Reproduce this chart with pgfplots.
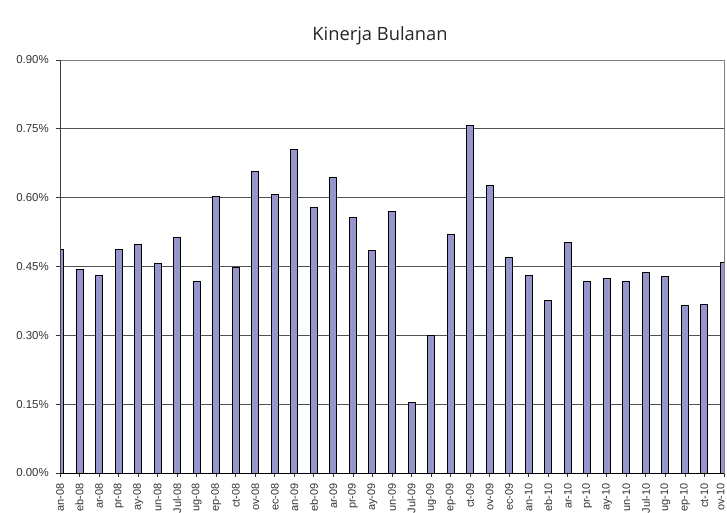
\documentclass[border=0pt]{standalone}
\usepackage{pgfplots}
\pgfplotsset{compat=1.18}
\usepackage{fontspec}
\setmainfont{Liberation Sans}
\newfontfamily\titlefont{Open Sans}
\definecolor{barfill}{RGB}{150,150,205}
\begin{document}
\begin{tikzpicture}
\begin{axis}[
  at={(0,0)}, anchor=south west,
  scale only axis,
  width=664bp, height=413bp,
  xmin=0, xmax=34,
  ymin=0, ymax=0.9,
  ybar, bar width=7bp,
  xtick={0,...,34},
  xticklabels={an-08,eb-08,ar-08,pr-08,ay-08,un-08,Jul-08,ug-08,ep-08,ct-08,ov-08,ec-08,an-09,eb-09,ar-09,pr-09,ay-09,un-09,Jul-09,ug-09,ep-09,ct-09,ov-09,ec-09,an-10,eb-10,ar-10,pr-10,ay-10,un-10,Jul-10,ug-10,ep-10,ct-10,{\raisebox{3.5bp}[\height][\depth]{ov-10}}},
  xticklabel style={yshift=-5bp, rotate=90, anchor=east, font=\fontsize{11}{12}\selectfont, color=black!80, inner sep=1bp},
  ytick={0,0.15,0.3,0.45,0.6,0.75,0.9},
  yticklabels={0.00\%,0.15\%,0.30\%,0.45\%,0.60\%,0.75\%,0.90\%},
  yticklabel style={xshift=-6bp, font=\fontsize{11.5}{12}\selectfont, color=black!80, inner sep=1bp},
  tick align=outside,
  xtick pos=left, ytick pos=left,
  major tick length=4bp,
  tick style={black!80, line width=0.8bp},
  ymajorgrids,
  major grid style={black!68, line width=1bp},
  axis line style={black!50, line width=1bp},
  title={\titlefont Kinerja Bulanan},
  title style={font=\fontsize{18.4}{20}\selectfont, at={(0.5,1)}, anchor=center, xshift=-12bp, yshift=18bp, color=black!85},
]
\addplot[fill=barfill, draw=black, line width=1bp] table[x=i, y=v] {
i v
0 0.486
1 0.443
2 0.431
3 0.486
4 0.499
5 0.456
6 0.514
7 0.417
8 0.603
9 0.448
10 0.657
11 0.607
12 0.706
13 0.579
14 0.645
15 0.557
16 0.484
17 0.569
18 0.153
19 0.299
20 0.520
21 0.758
22 0.627
23 0.470
24 0.430
25 0.377
26 0.503
27 0.417
28 0.423
29 0.418
30 0.438
31 0.429
32 0.365
33 0.368
34 0.458
};
\draw[black!75, line width=1bp] (rel axis cs:0,0) -- (rel axis cs:0,1);
\draw[black, line width=1bp] (rel axis cs:0,0) -- (rel axis cs:1,0);
\end{axis}
\pgfresetboundingbox
\path[use as bounding box] (-60bp,-40bp) rectangle (667bp,473bp);
\end{tikzpicture}
\end{document}
